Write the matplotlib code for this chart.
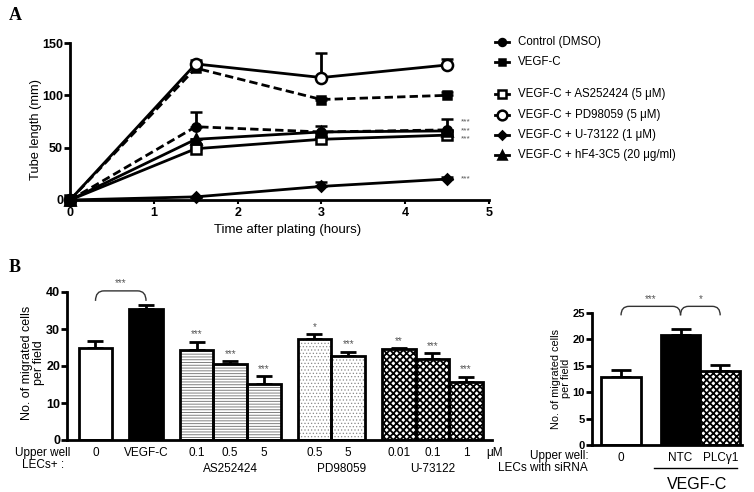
import matplotlib
matplotlib.use("Agg")
import matplotlib.pyplot as plt
from matplotlib.path import Path
from matplotlib.patches import PathPatch
from matplotlib.lines import Line2D
import matplotlib.transforms as mtransforms

plt.rcParams['font.family'] = ['Liberation Sans', 'DejaVu Sans']

# ---- panel A : tube length over time ----
hours = [0, 1.5, 3, 4.5]
control = [0, 70, 65, 67]
control_err = [0, 14, 6, 10]
vegfc = [0, 126, 96, 100]
vegfc_err = [0, 1, 1, 3]
as252424 = [0, 49, 58, 62]
as252424_err = [0, 2, 2, 2]
pd98059 = [0, 130, 117, 129]
pd98059_err = [0, 4, 23, 6]
u73122 = [0, 3, 13, 20]
u73122_err = [0, 0, 4, 2]
hf4 = [0, 58, 65, 66]
hf4_err = [0, 0, 0, 0]
legend_labels = ['Control (DMSO)', 'VEGF-C', 'VEGF-C + AS252424 (5 \u03bcM)',
                 'VEGF-C + PD98059 (5 \u03bcM)', 'VEGF-C + U-73122 (1 \u03bcM)',
                 'VEGF-C + hF4-3C5 (20 \u03bcg/ml)']
a_star_y = [74.5, 66.5, 58.5, 20]

# ---- panel B left : migration with inhibitors ----
b_pos = [0, 1.5, 3, 4, 5, 6.5, 7.5, 9, 10, 11]
b_labels = ['0', 'VEGF-C', '0.1', '0.5', '5', '0.5', '5', '0.01', '0.1', '1']
b_vals = [25.0, 35.3, 24.2, 20.5, 15.2, 27.4, 22.8, 24.5, 22.0, 15.8]
b_err = [1.8, 1.3, 2.4, 0.9, 2.0, 1.2, 1.1, 0.4, 1.4, 1.3]
b_stars = ['', '', '***', '***', '***', '*', '***', '**', '***', '***']
b_groups = ['AS252424', 'PD98059', 'U-73122']
b_group_x = [4, 7.3, 10]

# ---- panel B right : siRNA ----
c_pos = [0, 1.5, 2.5]
c_labels = ['0', 'NTC', 'PLC\u03b31']
c_vals = [12.8, 20.7, 14.0]
c_err = [1.3, 1.2, 1.1]

fig = plt.figure(figsize=(7.54, 4.92), dpi=100)
W, H = 754.0, 492.0
STAR = dict(fontsize=7, color='#555555')


def style_axes(ax, size):
    for s in ['top', 'right']:
        ax.spines[s].set_visible(False)
    for s in ['left', 'bottom']:
        ax.spines[s].set_linewidth(2)
    ax.tick_params(axis='y', direction='out', length=4, width=2, labelsize=size, pad=1)
    for t in ax.get_yticklabels():
        t.set_fontweight('bold')


def bracket(ax, x0, x1, ylow, ytop, r):
    verts = [(x0, ylow), (x0, ytop), (x0 + r, ytop), (x1 - r, ytop), (x1, ytop), (x1, ylow)]
    codes = [Path.MOVETO, Path.CURVE3, Path.CURVE3, Path.LINETO, Path.CURVE3, Path.CURVE3]
    ax.add_patch(PathPatch(Path(verts, codes), fill=False, lw=1, ec='#333333', clip_on=False))


# ================= panel A =================
ax = fig.add_axes([70 / W, 1 - 200 / H, 419 / W, 157 / H])
series = [
    (control, control_err, 'o', 'black', '--', 6),
    (vegfc, vegfc_err, 's', 'black', '--', 6),
    (as252424, as252424_err, 's', 'white', '-', 7),
    (pd98059, pd98059_err, 'o', 'white', '-', 8),
    (u73122, u73122_err, 'D', 'black', '-', 5),
    (hf4, hf4_err, '^', 'black', '-', 7),
]
for vals, err, mk, fc, ls, ms in series:
    eb = ax.errorbar(hours, vals, yerr=[[0] * len(err), err], marker=mk, mfc=fc, mec='black',
                     mew=1.8, ms=ms, color='black', ls=ls, lw=2, elinewidth=2,
                     capsize=4, capthick=2, clip_on=False, zorder=3)
    if ls == '--':
        eb[0].set_dashes((3, 1.5))
    for art in eb[1] + eb[2]:
        art.set_clip_on(False)
for y in a_star_y:
    ax.text(4.66, y, '***', va='center', ha='left', fontsize=6, color='#555555')
ax.set_xlim(0, 5)
ax.set_ylim(0, 150)
ax.set_yticks([0, 50, 100, 150])
ax.set_xticks([0, 1, 2, 3, 4, 5])
style_axes(ax, 9)
ax.tick_params(axis='x', direction='out', length=3, width=1.5, labelsize=9, pad=2)
for t in ax.get_xticklabels():
    t.set_fontweight('bold')
ax.set_xlabel('Time after plating (hours)', fontsize=9.5)
ax.xaxis.set_label_coords(0.52, -0.15)
ax.set_ylabel('Tube length (mm)', fontsize=9.3)
ax.yaxis.set_label_coords(-0.067, 0.45)

# ================= panel B left =================
bx = fig.add_axes([67 / W, 1 - 440 / H, 425 / W, 148 / H])
for i, (p, v) in enumerate(zip(b_pos, b_vals)):
    if i == 0:
        bx.bar(p, v, width=1, color='white', edgecolor='black', lw=2, zorder=2)
    elif i == 1:
        bx.bar(p, v, width=1, color='black', edgecolor='black', lw=2, zorder=2)
    else:
        if i <= 4:
            hatch, hc, hlw = '------', '#808080', 0.7
        elif i <= 6:
            hatch, hc, hlw = '.....', '#888888', 0.5
        else:
            hatch, hc, hlw = 'xxxxx', 'black', 1.3
        with plt.rc_context({'hatch.linewidth': hlw}):
            bx.bar(p, v, width=1, color='white', edgecolor=hc, hatch=hatch, lw=0, zorder=2)
        bx.bar(p, v, width=1, fill=False, edgecolor='black', lw=2, zorder=3)
bx.errorbar(b_pos, b_vals, yerr=[[0] * len(b_err), b_err], fmt='none', ecolor='black',
            elinewidth=2, capsize=6, capthick=2, zorder=1)
for p, v, e, s in zip(b_pos, b_vals, b_err, b_stars):
    if s:
        bx.text(p, v + e + 0.6, s, ha='center', va='bottom', **STAR)
bracket(bx, 0, 1.5, 37.6, 40.3, 0.25)
bx.text(0.75, 41.0, '***', ha='center', va='bottom', **STAR)
bx.set_xlim(-0.846, 11.77)
bx.set_ylim(0, 40)
bx.set_yticks([0, 10, 20, 30, 40])
bx.set_xticks(b_pos, b_labels)
style_axes(bx, 9)
bx.tick_params(axis='x', length=0, labelsize=8.5, pad=5)
bx.set_ylabel('No. of migrated cells\nper field', fontsize=9, linespacing=1.0)
bx.yaxis.set_label_coords(-0.052, 0.52)
trans_b = mtransforms.blended_transform_factory(bx.transData, bx.transAxes)
for g, gx in zip(b_groups, b_group_x):
    bx.text(gx, -0.196, g, transform=trans_b, fontsize=8.5, ha='center', va='center')
bx.text(11.84, -0.088, '\u03bcM', transform=trans_b, fontsize=8.5, ha='center', va='center')
bx.text(-1.57, -0.088, 'Upper well', transform=trans_b, fontsize=8.5, ha='center', va='center')
bx.text(-1.57, -0.169, 'LECs+ :', transform=trans_b, fontsize=8.5, ha='center', va='center')

# ================= panel B right =================
cx = fig.add_axes([591.7 / W, 1 - 445 / H, 150.3 / W, 132.3 / H])
cx.bar(c_pos[0], c_vals[0], width=1, color='white', edgecolor='black', lw=2, zorder=2)
cx.bar(c_pos[1], c_vals[1], width=1, color='black', edgecolor='black', lw=2, zorder=2)
with plt.rc_context({'hatch.linewidth': 1.3}):
    cx.bar(c_pos[2], c_vals[2], width=1, color='white', edgecolor='black', hatch='xxxxx', lw=0, zorder=2)
cx.bar(c_pos[2], c_vals[2], width=1, fill=False, edgecolor='black', lw=2, zorder=3)
cx.errorbar(c_pos, c_vals, yerr=[[0] * len(c_err), c_err], fmt='none', ecolor='black',
            elinewidth=2, capsize=7, capthick=2, zorder=1)
bracket(cx, 0, 1.5, 24.5, 26.2, 0.2)
bracket(cx, 1.5, 2.5, 24.5, 26.2, 0.2)
cx.text(0.75, 26.6, '***', ha='center', va='bottom', **STAR)
cx.text(2.0, 26.6, '*', ha='center', va='bottom', **STAR)
cx.set_xlim(-0.74, 3.05)
cx.set_ylim(0, 25)
cx.set_yticks([0, 5, 10, 15, 20, 25])
cx.set_xticks(c_pos, c_labels)
style_axes(cx, 8)
cx.tick_params(axis='x', length=0, labelsize=8.5, pad=5)
cx.set_ylabel('No. of migrated cells\nper field', fontsize=7.8, linespacing=1.0)
cx.yaxis.set_label_coords(-0.14, 0.5)
trans_c = mtransforms.blended_transform_factory(cx.transData, cx.transAxes)
cx.text(-0.83, -0.083, 'Upper well:', transform=trans_c, fontsize=8.5, ha='right', va='center')
cx.text(-0.83, -0.174, 'LECs with siRNA', transform=trans_c, fontsize=8.5, ha='right', va='center')
cx.add_line(Line2D([0.83, 2.93], [-0.174, -0.174], transform=trans_c, color='black', lw=1, clip_on=False))
cx.text(1.93, -0.3, 'VEGF-C', transform=trans_c, fontsize=11.5, ha='center', va='center')

# ================= overlay: legend + panel letters =================
lax = fig.add_axes([0, 0, 1, 1])
lax.set_xlim(0, W)
lax.set_ylim(H, 0)
lax.axis('off')
leg_y = [42, 62, 94, 115, 135, 155]
for (vals, err, mk, fc, ls, ms), lab, y in zip(series, legend_labels, leg_y):
    lax.plot([495, 509], [y, y], color='black', lw=2)
    lax.plot([502], [y], marker=mk, mfc=fc, mec='black', mew=1.8, ms=ms - 1)
    lax.text(518, y, lab, fontsize=8.3, va='center', ha='left')
lax.text(9, 15, 'A', fontsize=13, fontweight='bold', family='Liberation Serif', va='center')
lax.text(9, 267, 'B', fontsize=13, fontweight='bold', family='Liberation Serif', va='center')

fig.savefig('out.png', dpi=100)
